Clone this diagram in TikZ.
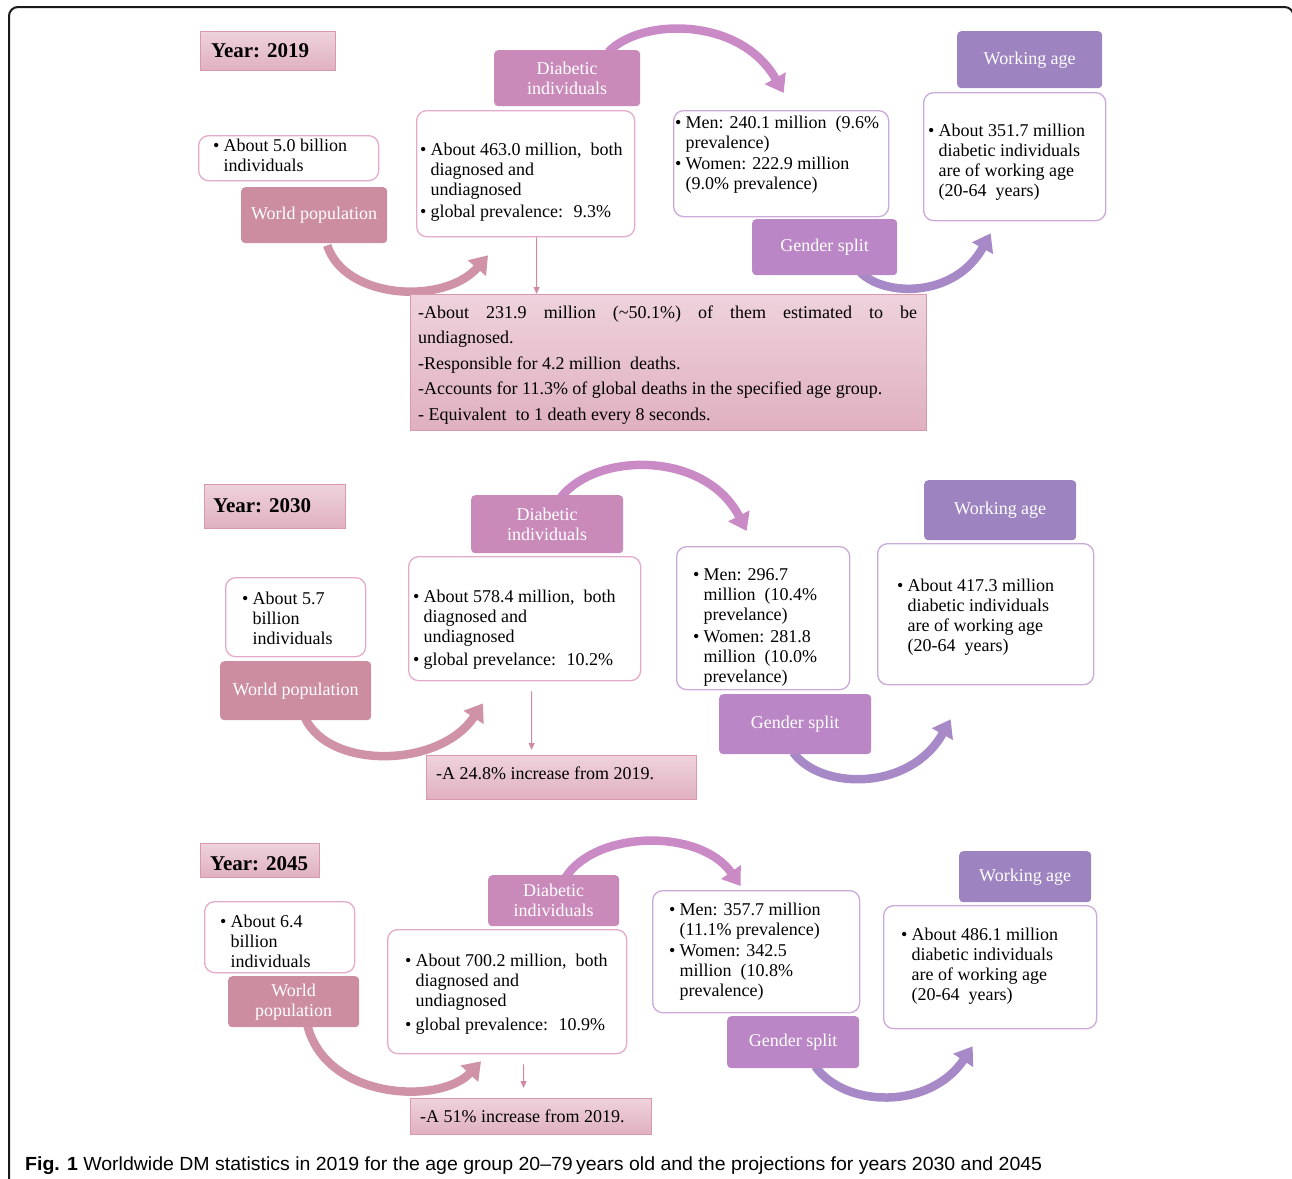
\documentclass[tikz,border=0pt]{standalone}
\usepackage{fontspec}
\usepackage{graphicx}
\setmainfont{Liberation Serif}
\newfontfamily\capfont{Liberation Sans}
\usetikzlibrary{arrows.meta,calc}
\pgfdeclarelayer{bg}
\pgfsetlayers{bg,main}
\definecolor{wpc}{HTML}{CC8DA1}
\definecolor{diac}{HTML}{C98ABA}
\definecolor{gsc}{HTML}{BA86C6}
\definecolor{wac}{HTML}{9D84C0}
\definecolor{arA}{HTML}{CF92A6}
\definecolor{arB}{HTML}{C98AC6}
\definecolor{arC}{HTML}{A889C8}
\definecolor{pinktop}{HTML}{EED2DC}
\definecolor{pinkbot}{HTML}{E0B0C0}
\definecolor{pinkedge}{HTML}{D998AE}
\definecolor{pedge}{HTML}{E4AACB}
\definecolor{vedge}{HTML}{CBAAD9}
\definecolor{thinc}{HTML}{D18AA5}
\definecolor{framec}{HTML}{1A1A1A}
\newcommand\bodyfont{\fontsize{18}{20}\selectfont}
\newcommand\labfont{\fontsize{18}{20}\selectfont}
\newcommand\yearfont{\fontsize{21}{24}\selectfont\bfseries}
\newcommand\notefont{\fontsize{18}{25.5}\selectfont\parindent=0pt\tolerance=10000}
\newcommand\bul{\makebox[10.5pt][l]{\textbullet}}
\newcommand\BOX[7]{\node[#1, anchor=north west, minimum width=#5-#3, minimum height=#6-#4] (#2) at (#3,-#4) {#7};}
\tikzset{
  lab/.style={fill=#1, rounded corners=4pt, text=white, align=center, font=\labfont, inner sep=0pt},
  wbox/.style={draw=#1, fill=white, rounded corners=10pt, line width=1.3pt, inner sep=0pt},
  pbox/.style={draw=pinkedge, top color=pinktop, bottom color=pinkbot, line width=1.2pt, inner sep=0pt},
  txt/.style={anchor=north west, inner sep=0pt, font=\bodyfont, align=left},
  bigarrow/.style={draw=#1, line width=8.5pt, -{Triangle[length=17pt,width=23pt]}},
  thinarrow/.style={draw=thinc, line width=1.1pt, -{Triangle[length=7pt,width=6pt]}},
}
\begin{document}
\begin{tikzpicture}[x=1pt,y=1pt]
\useasboundingbox (0,0) rectangle (1292,-1178);
\clip (0,0) rectangle (1292,-1178);
\draw[line width=2pt, framec, rounded corners=9pt] (9,-1220) -- (9,-7) -- (1293.5,-7) -- (1293.5,-1220);

% ================= 2019 =================
\BOX{pbox}{y1}{200}{31}{335}{70}{}
\node[anchor=base west, font=\yearfont, inner sep=0pt] (y1t) at (211,-57.5) {Year: 2019};
\BOX{lab=diac}{di1}{494}{50}{640}{106}{Diabetic\\individuals}
\BOX{wbox=pedge}{wi1}{198}{135}{378}{180}{}
\node[txt] (wi1t) at (213,-137.5) {\begin{tabular}{@{}l@{}l@{}}\bul & About 5.0 billion\\ & individuals\end{tabular}};
\BOX{lab=wpc}{wp1}{241}{187}{387}{243}{World population}
\BOX{wbox=pedge}{dinfo1}{416}{110}{634}{236}{}
\node[txt] (dinfo1t) at (420,-141) {\begin{tabular}{@{}l@{}l@{}}\bul & About 463.0 million,~ both\\ & diagnosed and\\ & undiagnosed\\[2pt] \bul & global prevalence:~ 9.3\%\end{tabular}};
\BOX{wbox=vedge}{ginfo1}{673}{110}{888}{216}{}
\node[txt] (ginfo1t) at (675,-114) {\begin{tabular}{@{}l@{}l@{}}\bul & Men: 240.1 million~ (9.6\%\\ & prevalence)\\[1pt] \bul & Women: 222.9 million\\ & (9.0\% prevalence)\end{tabular}};
\BOX{lab=gsc}{gs1}{752}{219}{897}{275}{Gender split}
\BOX{lab=wac}{wa1}{957}{31}{1102}{88}{Working age}
\BOX{wbox=vedge}{winfo1}{923}{92}{1105}{220}{}
\node[txt] (winfo1t) at (928,-122.5) {\begin{tabular}{@{}l@{}l@{}}\bul & About 351.7 million\\ & diabetic individuals\\ & are of working age\\ & (20-64~ years)\end{tabular}};
\BOX{pbox}{note1}{410}{294}{926}{430}{}
\node[anchor=north west, inner sep=0pt, text width=499pt, align=justify, font=\notefont] (note1t) at (418,-300) {\strut -About 231.9 million (\textasciitilde50.1\%) of them estimated to be\linebreak undiagnosed.\par -Responsible for 4.2 million~ deaths.\par -Accounts for 11.3\% of global deaths in the specified age group.\par - Equivalent~ to 1 death every 8 seconds.};

% ================= 2030 =================
\BOX{pbox}{y2}{204}{484}{345}{528}{}
\node[anchor=base west, font=\yearfont, inner sep=0pt] (y2t) at (213,-512.5) {Year: 2030};
\BOX{lab=diac}{di2}{471}{495}{623}{553}{Diabetic\\individuals}
\BOX{wbox=pedge}{wi2}{225}{577}{365}{656}{}
\node[txt] (wi2t) at (242,-590) {\begin{tabular}{@{}l@{}l@{}}\bul & About 5.7\\ & billion\\ & individuals\end{tabular}};
\BOX{lab=wpc}{wp2}{220}{661}{371}{720}{World population}
\BOX{wbox=pedge}{dinfo2}{408}{556}{640}{680}{}
\node[txt] (dinfo2t) at (413,-588.5) {\begin{tabular}{@{}l@{}l@{}}\bul & About 578.4 million,~ both\\ & diagnosed and\\ & undiagnosed\\[3pt] \bul & global prevelance:~ 10.2\%\end{tabular}};
\BOX{wbox=vedge}{ginfo2}{676}{546}{849}{689}{}
\node[txt] (ginfo2t) at (693,-566) {\begin{tabular}{@{}l@{}l@{}}\bul & Men: 296.7\\ & million~ (10.4\%\\ & prevelance)\\[2pt] \bul & Women: 281.8\\ & million~ (10.0\%\\ & prevelance)\end{tabular}};
\BOX{lab=gsc}{gs2}{719}{694}{871}{754}{Gender split}
\BOX{lab=wac}{wa2}{924}{480}{1076}{540}{Working age}
\BOX{wbox=vedge}{winfo2}{877}{543}{1093}{684}{}
\node[txt] (winfo2t) at (897,-577) {\begin{tabular}{@{}l@{}l@{}}\bul & About 417.3 million\\ & diabetic individuals\\ & are of working age\\ & (20-64~ years)\end{tabular}};
\BOX{pbox}{note2}{426}{755}{696}{799}{}
\node[anchor=base west, font=\bodyfont, inner sep=0pt] (note2t) at (436,-779.5) {-A 24.8\% increase from 2019.};

% ================= 2045 =================
\BOX{pbox}{y3}{200}{843}{319}{877}{}
\node[anchor=base west, font=\yearfont, inner sep=0pt] (y3t) at (210,-870.5) {Year: 2045};
\BOX{lab=diac}{di3}{488}{875}{619}{926}{Diabetic\\individuals}
\BOX{wbox=pedge}{wi3}{204}{901}{354}{972}{}
\node[txt] (wi3t) at (220,-913) {\begin{tabular}{@{}l@{}l@{}}\bul & About 6.4\\ & billion\\ & individuals\end{tabular}};
\BOX{lab=wpc}{wp3}{228}{976}{359}{1027}{World\\population}
\BOX{wbox=pedge}{dinfo3}{387}{929}{626}{1053}{}
\node[txt] (dinfo3t) at (405,-952) {\begin{tabular}{@{}l@{}l@{}}\bul & About 700.2 million,~ both\\ & diagnosed and\\ & undiagnosed\\[4pt] \bul & global prevalence:~ 10.9\%\end{tabular}};
\BOX{wbox=vedge}{ginfo3}{652}{890}{859}{1012}{}
\node[txt] (ginfo3t) at (669,-901) {\begin{tabular}{@{}l@{}l@{}}\bul & Men: 357.7 million\\ & (11.1\% prevalence)\\[1pt] \bul & Women: 342.5\\ & million~ (10.8\%\\ & prevalence)\end{tabular}};
\BOX{lab=gsc}{gs3}{727}{1016}{859}{1068}{Gender split}
\BOX{lab=wac}{wa3}{959}{851}{1091}{902}{Working age}
\BOX{wbox=vedge}{winfo3}{883}{905}{1096}{1028}{}
\node[txt] (winfo3t) at (901,-926) {\begin{tabular}{@{}l@{}l@{}}\bul & About 486.1 million\\ & diabetic individuals\\ & are of working age\\ & (20-64~ years)\end{tabular}};
\BOX{pbox}{note3}{410}{1098}{651}{1134}{}
\node[anchor=base west, font=\bodyfont, inner sep=0pt] (note3t) at (420,-1122.5) {-A 51\% increase from 2019.};

% ================= connectors =================
\begin{pgfonlayer}{bg}
\draw[bigarrow=arA] ([shift={(13,-2)}]wp1.south) .. controls (345,-300) and (445,-305) .. ([shift={(72,-18)}]dinfo1.south west);
\draw[bigarrow=arB] ([shift={(-32,-2)}]di1.north east) .. controls (640,-18) and (740,-16) .. ([shift={(2.5,17)}]ginfo1.north);
\draw[bigarrow=arC] ([shift={(-37,3)}]gs1.south east) .. controls (885,-297) and (955,-298) .. ([shift={(-24,-12)}]winfo1.south);

\draw[bigarrow=arA] ([shift={(9.5,2)}]wp2.south) .. controls (330,-770) and (440,-768) .. ([shift={(75,-22)}]dinfo2.south west);
\draw[bigarrow=arB] ([shift={(-63,-3)}]di2.north east) .. controls (595,-452) and (705,-450) .. ([shift={(-16.5,15)}]ginfo2.north);
\draw[bigarrow=arC] ([shift={(-2,2)}]gs2.south) .. controls (820,-790) and (910,-792) .. ([shift={(-35,-34)}]winfo2.south);

\draw[bigarrow=arA] ([shift={(13.5,3)}]wp3.south) .. controls (325,-1100) and (440,-1105) .. ([shift={(94,-7)}]dinfo3.south west);
\draw[bigarrow=arB] ([shift={(11.5,-3)}]di3.north) .. controls (595,-830) and (700,-828) .. ([shift={(-15.5,4)}]ginfo3.north);
\draw[bigarrow=arC] ([shift={(22,2)}]gs3.south) .. controls (845,-1108) and (930,-1110) .. ([shift={(-17.5,-17)}]winfo3.south);
\end{pgfonlayer}
\draw[thinarrow] ([xshift=11]dinfo1.south) -- ([xshift=-132]note1.north);
\draw[thinarrow] ([shift={(7,-10)}]dinfo2.south) -- ([shift={(-30,5)}]note2.north);
\draw[thinarrow] ([shift={(16.5,-10)}]dinfo3.south) -- ([shift={(-7.5,10)}]note3.north);

% ================= caption =================
\node[anchor=base west, inner sep=0pt] (cap) at (25,-1170) {\resizebox{1017pt}{\height}{\capfont\fontsize{19}{22}\selectfont\textbf{Fig. 1} Worldwide DM statistics in 2019 for the age group 20–79\,years old and the projections for years 2030 and 2045}};
\end{tikzpicture}
\end{document}
